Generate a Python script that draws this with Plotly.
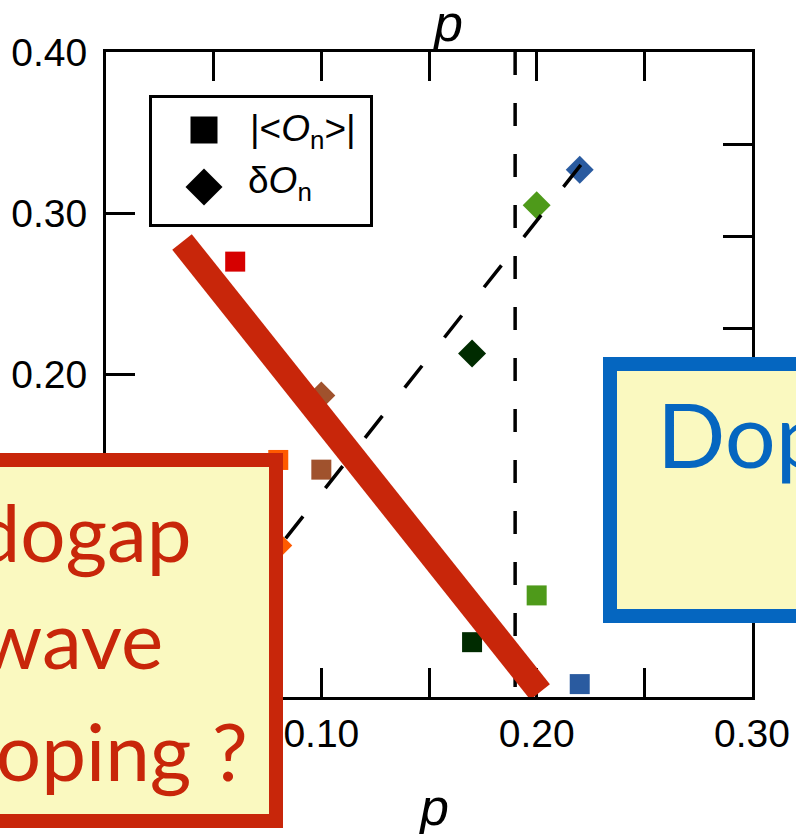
import plotly.graph_objects as go

# ---------------- data ----------------
P_SQ = [0.06, 0.08, 0.10, 0.17, 0.20, 0.22]
ON_ABS = [0.270, 0.147, 0.141, 0.034, 0.063, 0.008]
SQ_COLORS = ["#D60000", "#FF5A00", "#A0522D", "#002B00", "#4E9A1A", "#2A5BA0"]

P_DI = [0.08, 0.10, 0.17, 0.20, 0.22]
DELTA_ON = [0.094, 0.187, 0.213, 0.305, 0.327]
DI_COLORS = ["#FF5A00", "#A0522D", "#002B00", "#4E9A1A", "#2A5BA0"]

GUIDE_P = [0.2205, 0.04]
GUIDE_V = [0.330, 0.025]

P_CRIT = 0.19

ARROW_P = [0.0353, 0.2016]
ARROW_V = [0.2822, 0.0031]

X_TICKS = [0.0, 0.10, 0.20, 0.30]
X_LABELS = ["0.00", "0.10", "0.20", "0.30"]
Y_TICKS = [0.0, 0.10, 0.20, 0.30, 0.40]
Y_LABELS = ["0.00", "0.10", "0.20", "0.30", "0.40"]

# ---------------- layout geometry ----------------
W, H = 796, 834
PL, PR, PT, PB = 106, 752, 52, 697


def fx(px):
    return (px - PL) / (PR - PL)


def fy(py):
    return (PB - py) / (PB - PT)


RED = "#C8260A"
BLUE = "#0566C0"
YELLOW = "#FAF9C0"
TICKFONT = dict(family="Liberation Sans, Arial, sans-serif", size=39, color="black")
BIGFONT = "Lato, Open Sans, sans-serif"

fig = go.Figure()

fig.add_trace(go.Scatter(
    x=P_SQ, y=ON_ABS, mode="markers", showlegend=False,
    marker=dict(symbol="square", size=20, color=SQ_COLORS, line=dict(width=0)),
))
fig.add_trace(go.Scatter(
    x=P_DI, y=DELTA_ON, mode="markers", showlegend=False,
    marker=dict(symbol="diamond", size=21.5, color=DI_COLORS, line=dict(width=0)),
))
fig.add_trace(go.Scatter(
    x=GUIDE_P, y=GUIDE_V, mode="lines", showlegend=False,
    line=dict(color="black", width=3.5, dash="28px,36px"),
))
# invisible trace for right axis
fig.add_trace(go.Scatter(x=[0.1], y=[0.1], yaxis="y2", mode="markers",
                         marker=dict(opacity=0), showlegend=False, hoverinfo="skip"))

shapes = []
shapes.append(dict(type="line", xref="x", yref="paper", x0=P_CRIT, x1=P_CRIT, y0=1, y1=0,
                   line=dict(color="black", width=3.5, dash="23px,28px"), layer="above"))
shapes.append(dict(type="line", xref="x", yref="y", x0=ARROW_P[0], y0=ARROW_V[0],
                   x1=ARROW_P[1], y1=ARROW_V[1], line=dict(color=RED, width=25), layer="above"))
# legend box
shapes.append(dict(type="rect", xref="paper", yref="paper", x0=fx(150.5), x1=fx(371.5),
                   y0=fy(225.5), y1=fy(96.5), fillcolor="white",
                   line=dict(color="black", width=3), layer="above"))
shapes.append(dict(type="rect", xref="paper", yref="paper", x0=fx(190.5), x1=fx(217.5),
                   y0=fy(143.5), y1=fy(116.5), fillcolor="black", line=dict(width=0), layer="above"))
cx, cy, hd = 204, 187, 18.5
shapes.append(dict(type="path", xref="paper", yref="paper",
                   path=f"M {fx(cx)},{fy(cy-hd)} L {fx(cx+hd)},{fy(cy)} L {fx(cx)},{fy(cy+hd)} L {fx(cx-hd)},{fy(cy)} Z",
                   fillcolor="black", line=dict(width=0), layer="above"))
# pseudogap box
shapes.append(dict(type="rect", xref="paper", yref="paper", x0=fx(-300), x1=fx(276),
                   y0=fy(821), y1=fy(460), fillcolor=YELLOW,
                   line=dict(color=RED, width=14), layer="above"))
# doping box
shapes.append(dict(type="rect", xref="paper", yref="paper", x0=fx(610), x1=fx(1100),
                   y0=fy(616), y1=fy(364), fillcolor=YELLOW,
                   line=dict(color=BLUE, width=14), layer="above"))

LEGFONT = dict(family="Liberation Sans, Arial, sans-serif", size=37, color="black")
ann = []
ann.append(dict(text="|&lt;<i>O</i><sub>n</sub>&gt;|", x=fx(248), y=fy(131), xanchor="left", yanchor="middle",
                xref="paper", yref="paper", showarrow=False, font=LEGFONT))
ann.append(dict(text="δ<i>O</i><sub>n</sub>", x=fx(246), y=fy(183), xanchor="left", yanchor="middle",
                xref="paper", yref="paper", showarrow=False, font=LEGFONT))
PFONT = dict(family="Liberation Sans, Arial, sans-serif", size=52, color="black")
ann.append(dict(text="<i>p</i>", x=fx(447), y=fy(23), xanchor="center", yanchor="middle",
                xref="paper", yref="paper", showarrow=False, font=PFONT))
ann.append(dict(text="<i>p</i>", x=fx(433), y=fy(807), xanchor="center", yanchor="middle",
                xref="paper", yref="paper", showarrow=False, font=PFONT))
for txt, rx, my in [("Pseudogap", 194, 531), ("d-wave", 165, 638), ("doping ?", 250, 750)]:
    ann.append(dict(text=txt, x=fx(rx), y=fy(my), xanchor="right", yanchor="middle",
                    xref="paper", yref="paper", showarrow=False,
                    font=dict(family=BIGFONT, size=80, color=RED)))
ann.append(dict(text="Doping", x=fx(655), y=fy(433), xanchor="left", yanchor="middle",
                xref="paper", yref="paper", showarrow=False,
                font=dict(family=BIGFONT, size=90, color=BLUE)))

fig.update_layout(
    width=W, height=H, autosize=False,
    margin=dict(l=PL, r=W - PR, t=PT, b=H - PB, pad=0, autoexpand=False),
    paper_bgcolor="white", plot_bgcolor="white",
    showlegend=False,
    shapes=shapes, annotations=ann,
    xaxis=dict(range=[0, 0.30], tickvals=X_TICKS, ticktext=X_LABELS, ticks="inside",
               ticklen=29, tickwidth=3, tickcolor="black", showline=True, linewidth=3,
               linecolor="black", mirror="allticks", showgrid=False, zeroline=False,
               tickfont=TICKFONT, automargin=False,
               minor=dict(dtick=0.05, ticks="inside", ticklen=14, tickwidth=3, tickcolor="black",
                          showgrid=False)),
    yaxis=dict(range=[0, 0.40], tickvals=Y_TICKS, ticktext=Y_LABELS, ticks="inside",
               ticklen=29, tickwidth=3, tickcolor="black", showline=True, linewidth=3,
               linecolor="black", mirror=True, showgrid=False, zeroline=False,
               tickfont=TICKFONT, ticklabelstandoff=8, automargin=False),
    yaxis2=dict(range=[0, 0.35], dtick=0.05, overlaying="y", side="right", ticks="inside",
                ticklen=29, tickwidth=3, tickcolor="black", showticklabels=False,
                showline=False, showgrid=False, zeroline=False, automargin=False),
)

fig.write_html("out.html", config={"displayModeBar": False, "responsive": False},
               post_script="document.body.style.margin='0px';")
